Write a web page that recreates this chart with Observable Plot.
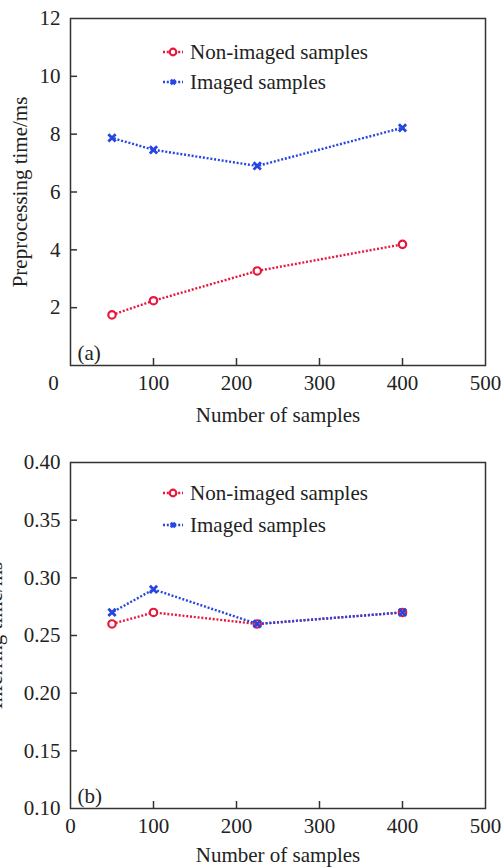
<!DOCTYPE html>
<html><head><meta charset="utf-8">
<script src="https://cdn.jsdelivr.net/npm/d3@7"></script>
<script src="https://cdn.jsdelivr.net/npm/@observablehq/plot@0.6"></script>
<style>
body{margin:0;background:#fff;}
#wrap{position:relative;width:501px;height:867px;overflow:hidden;background:#fff;font-family:"Liberation Serif","Times New Roman",serif;}
#wrap > svg{display:block;}
.lrow{position:absolute;display:flex;align-items:center;height:30px;white-space:nowrap;font-size:21px;color:#222;}
.lrow svg{margin-right:5px;display:block;}
</style></head><body><div id="wrap"></div>
<script>
const samples = [50, 100, 225, 400];
const seriesNames = ["Non-imaged samples", "Imaged samples"];
const preNonImaged = [1.75, 2.24, 3.27, 4.19];
const preImaged = [7.87, 7.46, 6.90, 8.22];
const infNonImaged = [0.26, 0.27, 0.26, 0.27];
const infImaged = [0.27, 0.29, 0.26, 0.27];
const xTickMarks = [100, 200, 300, 400];
const xTickLabelsA = [100, 200, 300, 400, 500];
const xCornerLabelA = [0];
const xTickLabelsB = [0, 100, 200, 300, 400, 500];
const yTickMarksA = [2, 4, 6, 8, 10];
const yTickLabelsA = [2, 4, 6, 8, 10, 12];
const yTickMarksB = [0.15, 0.20, 0.25, 0.30, 0.35];
const yTickLabelsB = [0.10, 0.15, 0.20, 0.25, 0.30, 0.35, 0.40];
const xTitle = "Number of samples";
const yTitleA = "Preprocessing time/ms";
const yTitleB = "Inferring time/ms";

const RED = "#e8173c", BLUE = "#2546e0", INK = "#222", FRAME = "#333";
const DASH = "2,1.8";
const wrap = document.getElementById("wrap");

function panel(o) {
  const rows = [];
  [o.nonImaged, o.imaged].forEach((vals, k) =>
    samples.forEach((x, i) => rows.push({series: seriesNames[k], x, y: vals[i]})));
  const red = rows.filter(d => d.series === seriesNames[0]);
  const blue = rows.filter(d => d.series === seriesNames[1]);
  const lineStyle = {x: "x", y: "y", stroke: "series", strokeWidth: 2.4, strokeDasharray: DASH, strokeLinecap: "butt", strokeLinejoin: "miter"};
  const marks = [
    Plot.frame({stroke: FRAME, strokeWidth: 1.5}),
    Plot.axisX(xTickMarks, {tickSize: -7, stroke: FRAME, strokeWidth: 1.5, tickFormat: () => "", label: null}),
    Plot.axisY(o.yTickMarks, {tickSize: -7, stroke: FRAME, strokeWidth: 1.5, tickFormat: () => "", label: null}),
    Plot.axisX(o.xLabels, {tickSize: 0, tickPadding: 10, fill: INK, label: null}),
    Plot.axisY(o.yLabels, {tickSize: 0, tickPadding: 10, fill: INK, tickFormat: o.yFormat, label: null}),
    Plot.text([xTitle], {frameAnchor: "bottom", dy: o.xTitleDy, fill: INK}),
    Plot.text([o.yTitle], {frameAnchor: "left", textAnchor: "middle", lineAnchor: "middle", rotate: -90, dx: o.yTitleDx, fill: INK}),
    Plot.text([o.tag], {frameAnchor: "bottom-left", dx: 7, dy: -6, textAnchor: "start", lineAnchor: "bottom", fill: INK}),
    Plot.line(red, lineStyle),
    Plot.line(blue, {...lineStyle, strokeDashoffset: 1.9}),
    Plot.dot(red, {x: "x", y: "y", r: 3.7, stroke: RED, strokeWidth: 2.2, fill: "white"}),
    Plot.dot(blue, {x: "x", y: "y", r: 3.4, symbol: "times", stroke: BLUE, strokeWidth: 2.8})
  ];
  if (o.cornerX) marks.push(Plot.axisX(o.cornerX, {tickSize: 0, tickPadding: 10, dx: -17, fill: INK, label: null}));
  return Plot.plot({
    width: 501, height: o.height,
    marginTop: o.mt, marginBottom: o.mb, marginLeft: 70, marginRight: 16,
    style: {fontFamily: '"Liberation Serif","Times New Roman",serif', fontSize: "21px", color: INK, background: "white", overflow: "hidden"},
    x: {domain: [0, 500], axis: null},
    y: {domain: o.yDomain, axis: null},
    color: {domain: seriesNames, range: [RED, BLUE]},
    marks
  });
}

wrap.appendChild(panel({
  nonImaged: preNonImaged, imaged: preImaged, yDomain: [0, 12],
  yTickMarks: yTickMarksA, yLabels: yTickLabelsA, yFormat: d => String(d),
  xLabels: xTickLabelsA, cornerX: xCornerLabelA,
  yTitle: yTitleA, yTitleDx: -50, xTitleDy: 56, tag: "(a)",
  height: 437, mt: 18, mb: 72
}));
wrap.appendChild(panel({
  nonImaged: infNonImaged, imaged: infImaged, yDomain: [0.10, 0.40],
  yTickMarks: yTickMarksB, yLabels: yTickLabelsB, yFormat: d3.format(".2f"),
  xLabels: xTickLabelsB, cornerX: null,
  yTitle: yTitleB, yTitleDx: -75, xTitleDy: 53, tag: "(b)",
  height: 430, mt: 25, mb: 59
}));

function legendRow(name, k, cy) {
  const row = document.createElement("div");
  row.className = "lrow";
  row.style.left = "163px";
  row.style.top = (cy - 15) + "px";
  const color = k === 0 ? RED : BLUE;
  const s = d3.create("svg").attr("width", 22).attr("height", 12);
  s.append("line").attr("x1", 0).attr("x2", 20).attr("y1", 6).attr("y2", 6)
    .attr("stroke", color).attr("stroke-width", 2.4).attr("stroke-dasharray", DASH);
  if (k === 0) {
    s.append("circle").attr("cx", 10).attr("cy", 6).attr("r", 3.3)
      .attr("fill", "white").attr("stroke", color).attr("stroke-width", 2.2);
  } else {
    s.append("path").attr("d", "M7.8,3.8L12.2,8.2M12.2,3.8L7.8,8.2")
      .attr("stroke", color).attr("stroke-width", 2.8);
  }
  row.appendChild(s.node());
  const t = document.createElement("span");
  t.textContent = name;
  row.appendChild(t);
  wrap.appendChild(row);
}
legendRow(seriesNames[0], 0, 52);
legendRow(seriesNames[1], 1, 82);
legendRow(seriesNames[0], 0, 493);
legendRow(seriesNames[1], 1, 525);
</script></body></html>
